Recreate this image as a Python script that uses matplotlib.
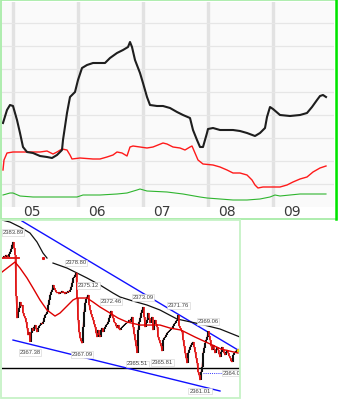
import numpy as np
import matplotlib
matplotlib.use('Agg')
import matplotlib.pyplot as plt
from matplotlib.patches import Rectangle
from matplotlib.lines import Line2D

W, H = 338, 400

# ---- top panel: three monthly series ----
month_labels = ['05', '06', '07', '08', '09']
month_starts = [13, 78, 143, 208, 273]

black_t = [3, 7, 10, 13, 17, 20, 23, 27, 33, 40, 47, 52, 57, 62, 63, 67, 70, 75, 78, 82,
           87, 93, 105, 110, 117, 123, 128, 130, 132, 135, 140, 143, 147, 150, 157, 163, 170, 177, 183, 190,
           193, 197, 200, 203, 207, 208, 213, 220, 233, 240, 247, 255, 260, 265, 267, 270, 273, 280, 290, 300,
           307, 312, 317, 320, 323, 326]
black_v = [95, 108, 113, 112, 98, 85, 71, 66, 65, 62, 61, 60, 63, 68, 78, 105, 121, 126, 138, 150,
           153, 155, 155, 160, 165, 168, 171, 176, 171, 158, 145, 135, 121, 113, 112, 112, 110, 106, 103, 100,
           88, 78, 71, 71, 85, 89, 90, 88, 88, 87, 85, 82, 85, 90, 101, 111, 109, 103, 102, 103,
           105, 111, 118, 122, 123, 121]

red_t = [3, 4, 7, 13, 27, 40, 47, 53, 57, 62, 67, 70, 72, 80, 93, 100, 107, 113, 117, 122,
         127, 130, 133, 140, 147, 153, 163, 167, 173, 180, 185, 190, 192, 195, 198, 203, 213, 220, 227, 233,
         240, 247, 252, 255, 258, 263, 273, 280, 287, 293, 300, 307, 313, 320, 326]
red_v = [48, 58, 65, 66, 66, 66, 67, 64, 66, 69, 68, 63, 59, 60, 59, 59, 61, 63, 66, 65,
         62, 71, 72, 71, 70, 71, 75, 74, 71, 70, 68, 71, 72, 65, 58, 54, 53, 51, 48, 45,
         45, 43, 38, 33, 30, 31, 31, 31, 33, 36, 39, 41, 46, 50, 52]

green_t = [3, 10, 13, 20, 33, 47, 60, 77, 83, 100, 117, 127, 137, 140, 147, 167, 183, 200, 207, 220,
           233, 247, 260, 270, 275, 280, 290, 300, 313, 326]
green_v = [23, 25, 25, 22, 21, 21, 21, 21, 23, 23, 24, 25, 28, 29, 27, 26, 24, 21, 20, 19,
           18, 18, 19, 21, 23, 22, 23, 24, 24, 24]

# ---- bottom panel: intraday price ----
first_bar = 3
closes = [
    2381.23, 2381.56, 2381.40, 2381.73, 2381.56, 2381.40, 2381.90, 2382.23, 2382.73, 2383.39,
    2383.89, 2382.89, 2381.73, 2374.93, 2371.28, 2372.28, 2372.94, 2373.94, 2373.27, 2373.44,
    2372.11, 2371.61, 2371.28, 2370.62, 2369.62, 2368.46, 2368.96, 2367.38, 2368.80, 2369.62,
    2369.13, 2369.79, 2370.12, 2369.46, 2368.96, 2369.62, 2369.96, 2370.12, 2370.45, 2370.29,
    2370.62, 2371.28, 2371.78, 2371.95, 2372.28, 2373.44, 2374.27, 2375.10, 2375.59, 2375.93,
    2376.76, 2376.26, 2375.93, 2375.59, 2375.43, 2375.59, 2375.26, 2375.59, 2375.43, 2375.76,
    2375.43, 2375.59, 2375.26, 2375.59, 2375.43, 2375.76, 2375.59, 2375.93, 2376.42, 2377.09,
    2377.92, 2378.08, 2378.41, 2378.80, 2374.60, 2370.95, 2368.96, 2367.97, 2367.47, 2367.09,
    2369.79, 2372.28, 2373.77, 2374.43, 2374.77, 2375.12, 2373.44, 2372.61, 2371.95, 2371.45,
    2370.95, 2370.29, 2369.79, 2368.80, 2368.13, 2369.29, 2368.46, 2368.13, 2369.29, 2369.62,
    2368.96, 2369.46, 2369.79, 2370.12, 2370.29, 2370.62, 2371.28, 2371.78, 2372.46, 2371.61,
    2371.28, 2370.62, 2370.45, 2369.96, 2369.62, 2370.12, 2369.46, 2369.29, 2369.62, 2369.79,
    2369.96, 2370.12, 2370.29, 2370.45, 2370.45, 2370.62, 2370.95, 2370.62, 2371.12, 2371.45,
    2369.79, 2368.63, 2367.63, 2366.64, 2365.51, 2369.29, 2370.62, 2371.28, 2372.11, 2372.61,
    2373.09, 2371.45, 2369.79, 2370.45, 2370.95, 2372.11, 2371.28, 2370.45, 2370.95, 2371.45,
    2369.29, 2370.29, 2370.95, 2370.29, 2369.79, 2368.13, 2367.63, 2367.14, 2366.64, 2365.81,
    2367.63, 2367.97, 2368.13, 2368.46, 2368.80, 2368.96, 2369.13, 2369.29, 2369.46, 2369.62,
    2369.96, 2370.29, 2370.45, 2370.78, 2370.95, 2371.76, 2369.96, 2369.62, 2369.29, 2368.96,
    2367.63, 2366.64, 2365.48, 2364.65, 2363.82, 2365.48, 2365.98, 2366.47, 2366.81, 2367.14,
    2367.30, 2366.47, 2365.64, 2364.65, 2363.82, 2362.33, 2361.83, 2361.01, 2362.33, 2363.16,
    2365.48, 2366.31, 2367.14, 2367.63, 2368.13, 2369.06, 2368.30, 2367.63, 2366.64, 2365.98,
    2366.81, 2366.14, 2365.48, 2365.98, 2366.47, 2365.98, 2365.31, 2364.81, 2365.64, 2366.47,
    2365.98, 2365.48, 2365.15, 2365.64, 2365.98, 2365.48, 2364.98, 2364.65, 2364.15, 2363.99,
    2365.15, 2365.48, 2365.64, 2365.81, 2365.98,
]

ma_long_t = [2, 10, 20, 30, 37, 43, 47, 50, 53, 67, 77, 87, 100, 113, 120, 133, 147, 160, 177, 200, 220, 240]
ma_long_v = [2387.54, 2387.20, 2386.38, 2385.38, 2383.89, 2382.06, 2381.23, np.nan, 2380.40, 2379.57,
             2378.75, 2377.92, 2376.76, 2375.43, 2374.77, 2374.10, 2373.44, 2372.61, 2371.12, 2370.29,
             2369.46, 2368.13]

ma_short_t = [2, 15, 20, 27, 33, 40, 47, 55, 60, 67, 73, 77, 87, 93, 100, 110, 118, 127, 140, 160,
              170, 181, 195, 208, 221, 238]
ma_short_v = [2378.91, 2380.57, 2379.57, 2377.92, 2376.26, 2374.27, 2372.61, 2371.61, 2372.11, 2373.27,
              2374.27, 2374.60, 2374.60, 2373.94, 2373.11, 2372.11, 2371.28, 2370.62, 2370.12, 2370.12,
              2369.62, 2369.29, 2368.13, 2367.14, 2366.14, 2365.48]

upper_channel_t = [22, 238]
upper_channel_v = [2387.37, 2365.98]
lower_channel_t = [13, 220]
lower_channel_v = [2367.63, 2359.18]

support_level = 2362.99
prev_close = 2381.23
prev_close_span = [2, 19]
prev_close_dot = 43
marker_level = 2362.16
marker_span = [203, 222]
marker_text = '2364.07'

extreme_t = [13, 30, 76, 82, 88, 111, 137, 143, 162, 178, 200, 208]
extreme_side = ['hi', 'lo', 'hi', 'lo', 'hi', 'hi', 'lo', 'hi', 'lo', 'hi', 'lo', 'hi']

LABEL_FONT = ['Liberation Sans', 'DejaVu Sans']


def fig_box(x0, y0, x1, y1):
    # pixel box (top-left origin) -> figure fraction rect
    return [x0 / W, 1 - y1 / H, (x1 - x0) / W, (y1 - y0) / H]


def draw_top(fig):
    ax = fig.add_axes(fig_box(2, 2, 334, 207))
    ax.set_facecolor('#fafafa')
    ax.set_xlim(2, 334)
    ax.set_ylim(11, 216)
    ax.set_xticks(month_starts)
    ax.set_yticks(np.arange(33.7, 200, 23.1))
    ax.grid(axis='x', color='#e2e2e2', lw=2.4)
    ax.grid(axis='y', color='#e6e6e6', lw=0.9)
    ax.set_axisbelow(True)
    ax.tick_params(length=0, labelbottom=False, labelleft=False)
    for s in ax.spines.values():
        s.set_visible(False)

    ax.plot(green_t, green_v, color='#2fb52f', lw=0.8)
    ax.plot(red_t, red_v, color='#ff1a1a', lw=1.0)
    ax.plot(black_t, black_v, color='#1e1e1e', lw=1.5, solid_joinstyle='round')

    for s, lab in zip(month_starts, month_labels):
        ax.text(s + 19, 5.5, lab, ha='center', va='center', fontsize=10,
                color='#3a3a3a', clip_on=False)


def draw_bottom(fig):
    ax = fig.add_axes(fig_box(2, 220, 240, 396))
    ax.set_facecolor('white')
    ax.set_xlim(2, 240)
    ax.set_ylim(2358.35, 2387.54)
    ax.set_xticks([])
    ax.set_yticks([])
    for s in ax.spines.values():
        s.set_visible(False)

    bars = np.arange(first_bar, first_bar + len(closes))
    px = np.asarray(closes)

    ax.axhline(support_level, color='black', lw=1.0, zorder=2)
    ax.plot(upper_channel_t, upper_channel_v, color='#1010ff', lw=1.0, zorder=2)
    ax.plot(lower_channel_t, lower_channel_v, color='#1010ff', lw=1.0, zorder=2)
    ax.plot(ma_long_t, ma_long_v, color='#111111', lw=0.9, zorder=3)

    # thin red close line with small candle bodies (open = previous close)
    ax.plot(bars, px, color='#e01010', lw=0.6, zorder=4)
    opens = np.r_[px[0], px[:-1]]
    up = px >= opens
    ax.vlines(bars[up], opens[up], px[up], color='#111111', lw=1.5, zorder=4)
    ax.vlines(bars[~up], px[~up], opens[~up], color='#e01010', lw=1.2, zorder=4)

    ax.plot(ma_short_t, ma_short_v, color='#dd0000', lw=1.0, zorder=5)

    ax.plot(prev_close_span, [prev_close] * 2, color='#e01010', lw=1.3, zorder=5)
    ax.plot([prev_close_dot], [prev_close], 's', ms=1.2, color='#e01010', zorder=5)

    ax.plot(marker_span, [marker_level] * 2, color='#3333ff', lw=0.7, ls=(0, (1, 1.2)), zorder=5)
    ax.text(marker_span[1] + 1, marker_level, marker_text, fontsize=4.2, color='#444444',
            va='center', ha='left', family=LABEL_FONT, zorder=6, clip_on=True,
            bbox=dict(boxstyle='square,pad=0.15', fc='white', ec='#d0d0d0', lw=0.4))

    ax.plot([upper_channel_t[1]], [upper_channel_v[1]], 'o', ms=2.2, color='#ffd700',
            mec='#c8a800', mew=0.3, zorder=6)

    for t, side in zip(extreme_t, extreme_side):
        val = closes[t - first_bar]
        dy = 7 if side == 'hi' else -8
        ax.annotate(f'{val:.2f}', (t, val), xytext=(0, dy), textcoords='offset points',
                    ha='center', va='center', fontsize=4.2, color='#444444',
                    family=LABEL_FONT, zorder=6,
                    bbox=dict(boxstyle='square,pad=0.15', fc='white', ec='#d0d0d0', lw=0.4),
                    annotation_clip=False)


def draw_frames(fig):
    tf = fig.transFigure
    fig.add_artist(Rectangle((0.6 / W, 1 - 218.5 / H), 336 / W, 218 / H, transform=tf,
                             fill=False, ec='#a8eca8', lw=1.3))
    fig.add_artist(Line2D([336.2 / W] * 2, [1 - 219 / H, 1], transform=tf,
                          color='#00e600', lw=1.8))
    fig.add_artist(Rectangle((0.8 / W, 1 - 397.5 / H), 239.5 / W, 178 / H, transform=tf,
                             fill=False, ec='#c6f2c6', lw=1.3))


def main():
    fig = plt.figure(figsize=(W / 100, H / 100), dpi=100)
    fig.patch.set_facecolor('white')
    draw_top(fig)
    draw_bottom(fig)
    draw_frames(fig)
    fig.savefig('out.png', dpi=100)
    plt.close(fig)


if __name__ == '__main__':
    main()
